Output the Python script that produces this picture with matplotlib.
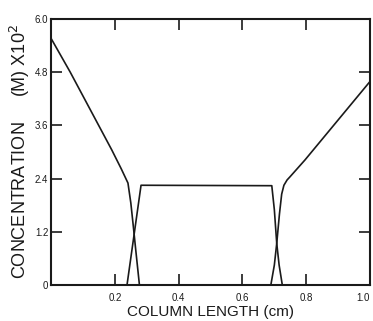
import matplotlib
matplotlib.use("Agg")
import matplotlib.pyplot as plt

plt.rcParams['font.family'] = ['Liberation Sans', 'DejaVu Sans']

# Descending profile from the column inlet
left_fall_x = [0.0, 0.06, 0.19, 0.22, 0.241, 0.250, 0.258, 0.266, 0.277]
left_fall_y = [5.56, 4.80, 3.05, 2.62, 2.30, 1.85, 1.31, 0.75, 0.0]

# Central band: rise, plateau, fall
band_x = [0.238, 0.282, 0.692, 0.700, 0.7075, 0.715, 0.725]
band_y = [0.0, 2.25, 2.24, 1.70, 0.94, 0.45, 0.0]

# Rising profile toward the column outlet
right_rise_x = [0.689, 0.700, 0.7075, 0.716, 0.723, 0.730, 0.740, 0.749, 0.796, 1.0]
right_rise_y = [0.0, 0.45, 0.94, 1.60, 2.05, 2.25, 2.37, 2.44, 2.82, 4.59]

x_ticks = [0.2, 0.4, 0.6, 0.8, 1.0]
x_tick_labels = ["0.2", "0.4", "0.6", "0.8", "1.0"]
y_ticks = [0, 1.2, 2.4, 3.6, 4.8, 6.0]
y_tick_labels = ["0", "1.2", "2.4", "3.6", "4.8", "6.0"]

ink = '#1a1a1a'

fig = plt.figure(figsize=(3.73, 3.21), dpi=100)
ax = fig.add_axes([0.137, 0.112, 0.855, 0.829])

for xs, ys in [(left_fall_x, left_fall_y), (band_x, band_y), (right_rise_x, right_rise_y)]:
    ax.plot(xs, ys, color=ink, lw=1.2, solid_joinstyle='round')

ax.set_xlim(0, 1.0)
ax.set_ylim(0, 6.0)

ax.set_xticks(x_ticks)
ax.set_xticklabels(x_tick_labels, fontsize=7, color=ink)
ax.set_yticks(y_ticks)
ax.set_yticklabels(y_tick_labels, fontsize=7, color=ink)
ax.get_xticklabels()[-1].set_horizontalalignment('right')

ax.tick_params(direction='in', length=8, width=1.2, color=ink,
               top=True, right=True, labeltop=False, labelright=False)
ax.tick_params(axis='x', pad=6)
ax.tick_params(axis='y', pad=2)

for s in ax.spines.values():
    s.set_linewidth(1.5)
    s.set_color(ink)

ax.set_xlabel("COLUMN LENGTH (cm)", fontsize=11, labelpad=1, color=ink)
ax.set_ylabel("CONCENTRATION     (M) X10$^2$", fontsize=13, labelpad=2, color=ink)

fig.savefig("out.png", dpi=100)
